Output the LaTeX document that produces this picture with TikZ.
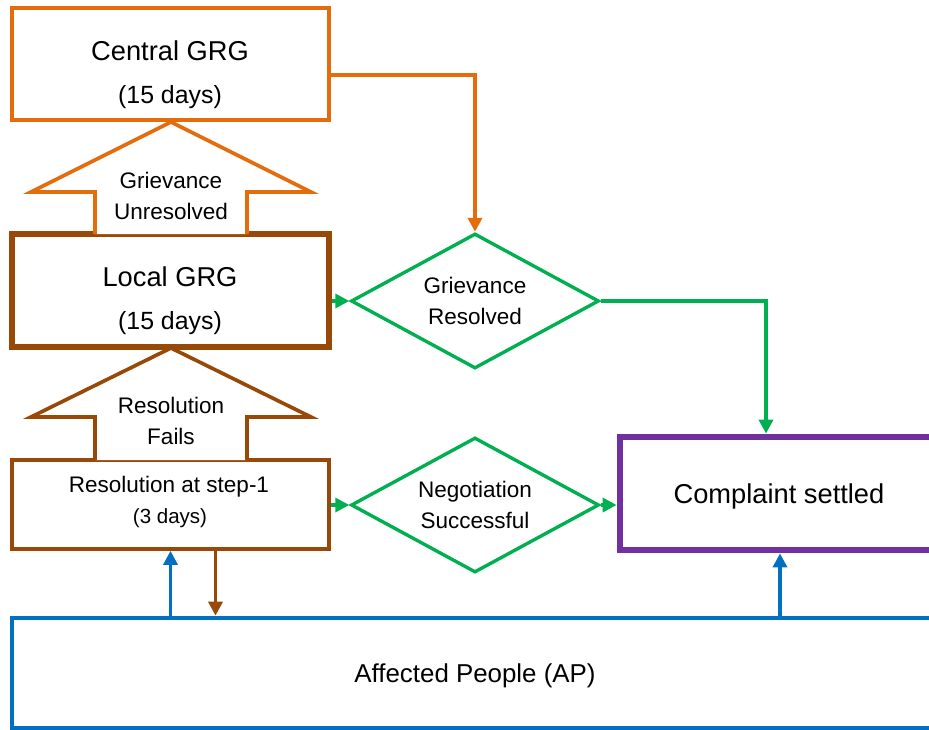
\documentclass[tikz,border=0pt]{standalone}
\usepackage{fontspec}
\setmainfont{Liberation Sans}
\usetikzlibrary{shapes.geometric,arrows.meta,calc}

\definecolor{grgorange}{HTML}{E46C0A}
\definecolor{grgbrown}{HTML}{984807}
\definecolor{grggreen}{HTML}{00B050}
\definecolor{grgpurple}{HTML}{7030A0}
\definecolor{grgblue}{HTML}{0070C0}

\tikzset{
  box/.style={draw, rectangle, inner sep=0pt},
  decision/.style={draw=grggreen, line width=2.4pt, diamond, aspect=1.85,
    minimum width=248*0.025cm, minimum height=135*0.025cm, inner sep=0pt,
    align=center, font=\fontsize{16}{21.5}\selectfont},
  flow/.style={line width=2.4pt, -{Triangle[length=10pt,width=10pt]}},
  big/.style={font=\fontsize{19.4}{23}\selectfont},
  small/.style={font=\fontsize{16}{19}\selectfont},
}

\begin{document}
\begin{tikzpicture}[x=0.025cm, y=-0.025cm]
  \useasboundingbox (0,0) rectangle (929,730);
  \clip (0,0) rectangle (929,730);

  % boxes
  \node[box, draw=grgorange, line width=2.6pt, minimum width=317*0.025cm, minimum height=112*0.025cm] (cgrg) at (170.5,64) {};
  \node[box, draw=grgbrown, line width=4pt, minimum width=317*0.025cm, minimum height=113*0.025cm] (lgrg) at (170.5,290.5) {};
  \node[box, draw=grgbrown, line width=2.6pt, minimum width=317*0.025cm, minimum height=89*0.025cm] (res) at (170.5,504.5) {};
  \node[box, draw=grgpurple, line width=4.8pt, minimum width=320*0.025cm, minimum height=113*0.025cm] (cset) at (780,493.5) {};
  \node[box, draw=grgblue, line width=3.3pt, minimum width=928*0.025cm, minimum height=110*0.025cm] (ap) at (476,673) {};

  \node[big] at (170,51) {Central GRG};
  \node[font=\fontsize{17.7}{20}\selectfont] at (170,97) {(15 days)};
  \node[big] at (170,277) {Local GRG};
  \node[font=\fontsize{17.7}{20}\selectfont] at (170,323) {(15 days)};
  \node[small] at (169,487) {Resolution at step-1};
  \node[font=\fontsize{14.6}{17}\selectfont] at (170,518) {(3 days)};
  \node[big] at (779,496) {Complaint settled};
  \node[font=\fontsize{18.4}{22}\selectfont] at (475,676) {Affected People (AP)};

  % block arrows
  \draw[grgorange, line width=2.6pt, fill=white, line join=miter]
    (95,234) -- (95,192) -- (31,192) -- (171,122) -- (311,192) -- (247,192) -- (247,234);
  \node[small, align=center, font=\fontsize{16}{22}\selectfont] at (171,196) {Grievance\\Unresolved};
  \draw[grgbrown, line width=2.6pt, fill=white, line join=miter]
    (95,460) -- (95,417) -- (31,417) -- (171,348) -- (311,417) -- (247,417) -- (247,460);
  \node[small, align=center, font=\fontsize{16}{22}\selectfont] at (171,421) {Resolution\\Fails};

  % decisions
  \node[decision] (gres) at (475,301) {Grievance\\Resolved};
  \node[decision] (neg) at (475,505) {Negotiation\\Successful};

  % connectors
  \coordinate (down) at ($(res.south)+(45,0)$);
  \draw[flow, grgorange] ($(cgrg.east)+(0,11)$) -| (gres.north);
  \draw[flow, grggreen] (lgrg.east |- gres.west) -- (gres.west);
  \draw[flow, grggreen] (gres.east) -| ($(cset.north)+(-14,0)$);
  \draw[flow, grggreen] (res.east |- neg.west) -- (neg.west);
  \draw[flow, grggreen] (neg.east) -- (cset.west |- neg.east);
  \draw[flow, grgblue] (res.south |- ap.north) -- (res.south);
  \draw[flow, grgbrown] (down) -- (down |- ap.north);
  \draw[flow, grgblue] (cset.south |- ap.north) -- (cset.south);
\end{tikzpicture}
\end{document}
